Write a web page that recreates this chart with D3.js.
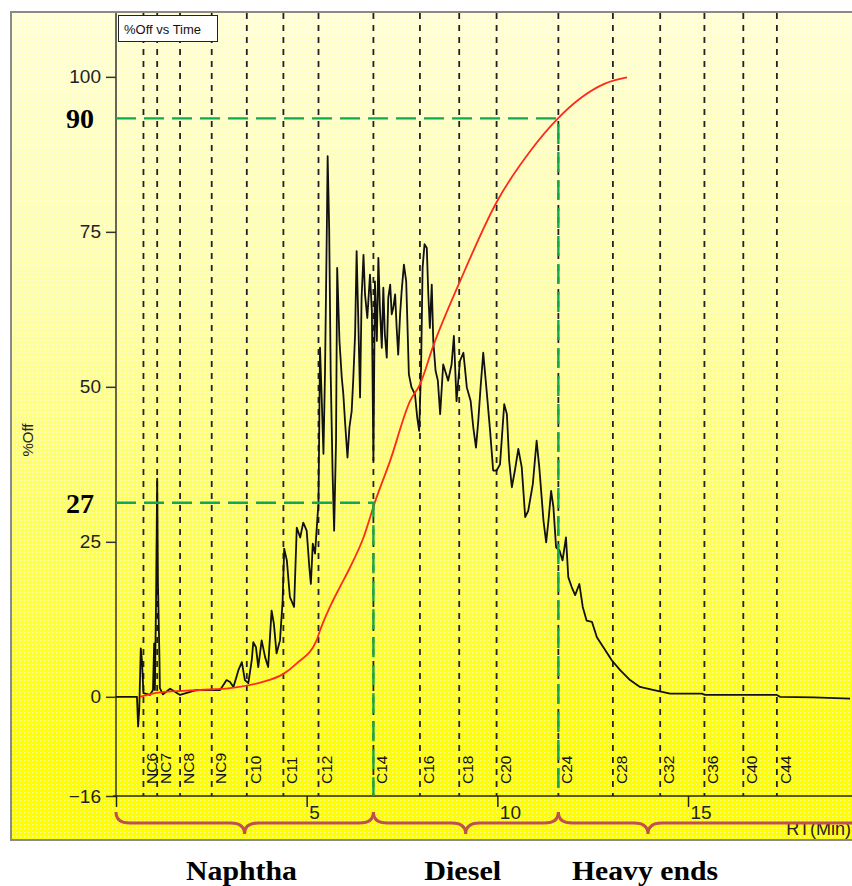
<!DOCTYPE html>
<html>
<head>
<meta charset="utf-8">
<script src="https://cdn.jsdelivr.net/npm/d3@7"></script>
<style>
  body { margin: 0; background: #fff; }
  svg { display: block; }
</style>
</head>
<body>
<div id="chart"></div>
<script>
// Component markers (retention time, min)
const compNames = ["NC6","NC7","NC8","NC9","C10","C11","C12","C14","C16","C18","C20","C24","C28","C32","C36","C40","C44"];
const compTimes = [0.72,1.08,1.68,2.51,3.43,4.39,5.31,6.75,7.97,9.00,9.98,11.60,13.03,14.27,15.43,16.45,17.33];

// Chromatogram trace
const rtTimes = [0,0.55,0.58,0.61,0.65,0.68,0.72,0.89,0.97,1.00,
  1.02,1.05,1.08,1.10,1.12,1.14,1.15,1.23,1.42,1.68,
  2.12,2.51,2.73,2.90,2.99,3.08,3.21,3.30,3.38,3.47,
  3.56,3.60,3.67,3.73,3.82,3.91,3.99,4.08,4.14,4.21,
  4.30,4.37,4.41,4.48,4.56,4.67,4.74,4.83,4.91,5.00,
  5.07,5.11,5.16,5.22,5.28,5.31,5.35,5.39,5.44,5.48,
  5.53,5.55,5.59,5.63,5.68,5.72,5.77,5.80,5.86,5.92,
  5.96,6.01,6.07,6.12,6.18,6.22,6.27,6.31,6.35,6.40,
  6.44,6.49,6.53,6.59,6.66,6.71,6.75,6.79,6.84,6.88,
  6.92,6.97,7.01,7.05,7.10,7.14,7.19,7.23,7.27,7.32,
  7.36,7.40,7.45,7.49,7.55,7.61,7.64,7.68,7.75,7.84,
  7.90,7.95,8.00,8.04,8.09,8.15,8.19,8.23,8.28,8.32,
  8.38,8.44,8.50,8.58,8.71,8.80,8.86,8.93,9.02,9.11,
  9.20,9.30,9.37,9.44,9.50,9.56,9.63,9.72,9.81,9.89,
  9.98,10.07,10.18,10.25,10.31,10.38,10.46,10.55,10.64,10.73,
  10.81,10.93,11.03,11.10,11.21,11.28,11.34,11.41,11.47,11.54,
  11.63,11.71,11.80,11.86,11.95,12.04,12.15,12.24,12.34,12.48,
  12.61,12.78,13.00,13.22,13.48,13.74,14.08,14.53,15.36,15.45,
  17.33,17.41,18.29,19.25];
const signal = [0,0,-4.8,-1.9,7.8,5.9,0.6,0.3,1.1,8.6,
  1.1,15.5,35.2,18.3,12.3,5.9,1.4,0.4,1.3,0.3,
  1.1,1.1,1.1,2.7,2.4,1.6,4.3,5.6,2.7,2.2,
  5.9,8.8,8.0,4.8,9.1,6.4,4.8,13.9,11.8,7.0,
  9.1,15.5,23.9,22.0,16.1,14.5,27.3,25.7,28.1,26.8,
  20.9,18.2,24.7,23.1,28.7,31.2,56.3,48.9,39.2,52.1,
  76.2,87.2,75.6,52.1,36.0,26.8,41.3,69.2,57.4,51.5,
  48.9,44.0,38.6,43.4,46.1,51.0,58.5,71.9,61.7,48.3,
  64.4,71.3,64.9,61.1,68.1,62.2,38.1,67.0,57.4,70.8,
  62.7,56.3,66.0,58.5,54.7,64.4,66.5,61.7,62.7,64.9,
  59.5,55.2,61.7,65.4,69.7,67.0,60.6,52.0,49.9,48.8,
  45.0,42.9,53.1,69.2,73.0,72.4,64.9,59.5,66.5,57.4,
  52.6,51.0,45.6,53.6,51.0,53.6,58.2,47.7,54.2,55.5,
  49.9,47.7,43.4,40.2,44.5,49.9,55.5,49.3,42.9,36.5,
  36.5,37.5,47.2,45.6,38.1,33.8,36.5,40.0,37.0,29.0,
  30.0,34.3,41.3,37.0,28.4,24.9,28.4,33.2,30.6,24.1,
  23.6,22.0,25.7,19.3,17.7,16.4,18.2,14.5,12.3,12.1,
  9.6,8.0,5.9,4.3,2.7,1.6,1.1,0.5,0.5,0.3,
  0.3,0.0,-0.1,-0.3];

// Cumulative %Off curve
const cumTimes = [0.63,1.15,2.20,2.99,3.78,4.39,4.74,5.26,5.35,5.61,5.87,6.14,6.49,6.79,7.19,7.71,7.97,8.32,9.02,9.99,10.86,11.59,12.17,12.82,13.40];
const cumOff = [0,0.7,1.1,1.4,2.3,3.7,5.4,9.1,10.7,14.5,17.7,20.9,25.7,31.4,38.1,47.7,50.4,56.6,67.0,79.9,88.0,93.3,96.5,98.9,99.9];

// Axis ticks
const yTicks = [100,75,50,25,0,-16];
const xTicks = [0,5,10,15];
const xTickLabels = ["","5","10","15"];

// Cut points
const cutTimes = [6.75, 11.60];
const cutValues = [31.3, 93.3];
const cutLabels = ["27","90"];

// Fractions
const fractionNames = ["Naphtha","Diesel","Heavy ends"];
const fractionStart = [0, 6.75, 11.60];
const fractionTip = [3.37, 9.17, 13.95];
const fractionEnd = [6.75, 11.60, 21];
const fractionWidths = [111, 77, 146];

const width = 852, height = 886;
const plotLeft = 116, plotRight = 852, plotTop = 13, plotBottom = 796;

const svg = d3.select("#chart")
  .append("svg")
  .attr("width", width)
  .attr("height", height);

const defs = svg.append("defs");
const grad = defs.append("linearGradient")
  .attr("id", "bg")
  .attr("x1", 0).attr("y1", 0).attr("x2", 0).attr("y2", 1);
grad.append("stop").attr("offset", 0).attr("stop-color", "#ffffd2");
grad.append("stop").attr("offset", 0.35).attr("stop-color", "#ffffa6");
grad.append("stop").attr("offset", 0.7).attr("stop-color", "#ffff45");
grad.append("stop").attr("offset", 0.9).attr("stop-color", "#ffff00");
grad.append("stop").attr("offset", 1).attr("stop-color", "#ffff00");

const pat = defs.append("pattern")
  .attr("id", "dots")
  .attr("width", 4).attr("height", 4)
  .attr("patternUnits", "userSpaceOnUse");
pat.append("rect").attr("width", 1).attr("height", 1).attr("fill", "#fff").attr("opacity", 0.55);

// Panel background
svg.append("rect")
  .attr("x", 11).attr("y", 12)
  .attr("width", 900).attr("height", 828)
  .attr("fill", "url(#bg)")
  .attr("stroke", "#8a8a8a")
  .attr("stroke-width", 2);
svg.append("rect")
  .attr("x", 12).attr("y", 13)
  .attr("width", 900).attr("height", 826)
  .attr("fill", "url(#dots)");

const x = d3.scaleLinear().domain([0, 19.3]).range([plotLeft, plotRight]);
const y = d3.scaleLinear().domain([-16, 110.3]).range([plotBottom, plotTop]);

// Component dashed lines
svg.selectAll(".comp")
  .data(compTimes)
  .enter()
  .append("line")
  .attr("x1", d => x(d)).attr("x2", d => x(d))
  .attr("y1", plotTop).attr("y2", y(-16))
  .attr("stroke", "#222")
  .attr("stroke-width", 1.8)
  .attr("stroke-dasharray", "6,6");

svg.selectAll(".compLabel")
  .data(compNames)
  .enter()
  .append("text")
  .attr("transform", (d, i) => "translate(" + (x(compTimes[i]) + 14) + ",784) rotate(-90)")
  .text(d => d)
  .style("font-family", "Liberation Sans, Arial, sans-serif")
  .style("font-size", "15.5px")
  .style("fill", "#111");

// Y axis
const yAxis = svg.append("g")
  .attr("transform", "translate(" + plotLeft + ",0)")
  .call(d3.axisLeft(y).tickValues(yTicks).tickSize(10).tickPadding(5).tickSizeOuter(0));
yAxis.select(".domain").attr("d", "M0," + plotTop + "V" + y(-16)).attr("stroke", "#333").attr("stroke-width", 1.5);
yAxis.selectAll(".tick line").attr("stroke", "#333").attr("stroke-width", 1.5);
yAxis.selectAll(".tick text")
  .style("font-family", "Liberation Sans, Arial, sans-serif")
  .style("font-size", "19px")
  .style("fill", "#222");

// X axis
const xAxis = svg.append("g")
  .attr("transform", "translate(0," + y(-16) + ")")
  .call(d3.axisBottom(x).tickValues(xTicks).tickSize(11).tickSizeOuter(0)
    .tickFormat((d, i) => xTickLabels[i]));
xAxis.select(".domain").attr("d", "M" + (plotLeft - 3) + ",0H" + (plotRight + 5)).attr("stroke", "#222").attr("stroke-width", 1.5);
xAxis.selectAll(".tick line").attr("stroke", "#222").attr("stroke-width", 1.5);
xAxis.selectAll(".tick text")
  .attr("x", 2).attr("y", 10)
  .attr("text-anchor", "start")
  .style("font-family", "Liberation Sans, Arial, sans-serif")
  .style("font-size", "19px")
  .style("fill", "#222");

// Axis titles
svg.append("text")
  .attr("transform", "translate(33,440) rotate(-90)")
  .attr("text-anchor", "middle")
  .text("%Off")
  .style("font-family", "Liberation Sans, Arial, sans-serif")
  .style("font-size", "15px")
  .style("fill", "#222");
svg.append("text")
  .attr("x", 851).attr("y", 835)
  .attr("text-anchor", "end")
  .text("RT(Min)")
  .style("font-family", "Liberation Sans, Arial, sans-serif")
  .style("font-size", "18px")
  .style("fill", "#222");

// Chromatogram
const trace = rtTimes.map((t, i) => [t, signal[i]]);
svg.append("path")
  .datum(trace)
  .attr("fill", "none")
  .attr("stroke", "#111")
  .attr("stroke-width", 1.8)
  .attr("stroke-linejoin", "round")
  .attr("d", d3.line().x(d => x(d[0])).y(d => y(d[1])));

// Cumulative curve
const cum = cumTimes.map((t, i) => [t, cumOff[i]]);
svg.append("path")
  .datum(cum)
  .attr("fill", "none")
  .attr("stroke", "#ff2a1a")
  .attr("stroke-width", 1.8)
  .attr("d", d3.line().curve(d3.curveMonotoneX).x(d => x(d[0])).y(d => y(d[1])));

// Cut point guides
cutTimes.forEach((t, i) => {
  svg.append("path")
    .attr("d", "M" + plotLeft + "," + y(cutValues[i]) + "H" + x(t) + "V" + y(-16))
    .attr("fill", "none")
    .attr("stroke", "#13a84a")
    .attr("stroke-width", 2.4)
    .attr("stroke-dasharray", "20,8");
  svg.append("text")
    .attr("x", 94)
    .attr("y", y(cutValues[i]) + 10)
    .attr("text-anchor", "end")
    .text(cutLabels[i])
    .style("font-family", "Liberation Serif, Times New Roman, serif")
    .style("font-weight", "bold")
    .style("font-size", "28px")
    .style("fill", "#000");
});

// Title box
svg.append("rect")
  .attr("x", 118.5).attr("y", 15.5)
  .attr("width", 99).attr("height", 26)
  .attr("fill", "#fff")
  .attr("stroke", "#222");
svg.append("text")
  .attr("x", 124).attr("y", 34)
  .text("%Off vs Time")
  .style("font-family", "Liberation Sans, Arial, sans-serif")
  .style("font-size", "13px")
  .style("fill", "#111");

// Braces under axis
function brace(x0, xm, x1) {
  const y0 = 812, ya = 823, yt = 834, q = 14;
  return "M" + x0 + "," + y0 + "Q" + x0 + "," + ya + " " + (x0 + q) + "," + ya +
    "L" + (xm - q) + "," + ya + "Q" + xm + "," + ya + " " + xm + "," + yt +
    "Q" + xm + "," + ya + " " + (xm + q) + "," + ya +
    "L" + (x1 - q) + "," + ya + "Q" + x1 + "," + ya + " " + x1 + "," + y0;
}
fractionNames.forEach((n, i) => {
  svg.append("path")
    .attr("d", brace(x(fractionStart[i]), x(fractionTip[i]), x(fractionEnd[i])))
    .attr("fill", "none")
    .attr("stroke", "#c0504d")
    .attr("stroke-width", 3);
  svg.append("text")
    .attr("x", x(fractionTip[i]) - 3)
    .attr("y", 880)
    .attr("text-anchor", "middle")
    .attr("textLength", fractionWidths[i])
    .attr("lengthAdjust", "spacingAndGlyphs")
    .text(n)
    .style("font-family", "Liberation Serif, Times New Roman, serif")
    .style("font-weight", "bold")
    .style("font-size", "27px")
    .style("fill", "#000");
});
</script>
</body>
</html>
